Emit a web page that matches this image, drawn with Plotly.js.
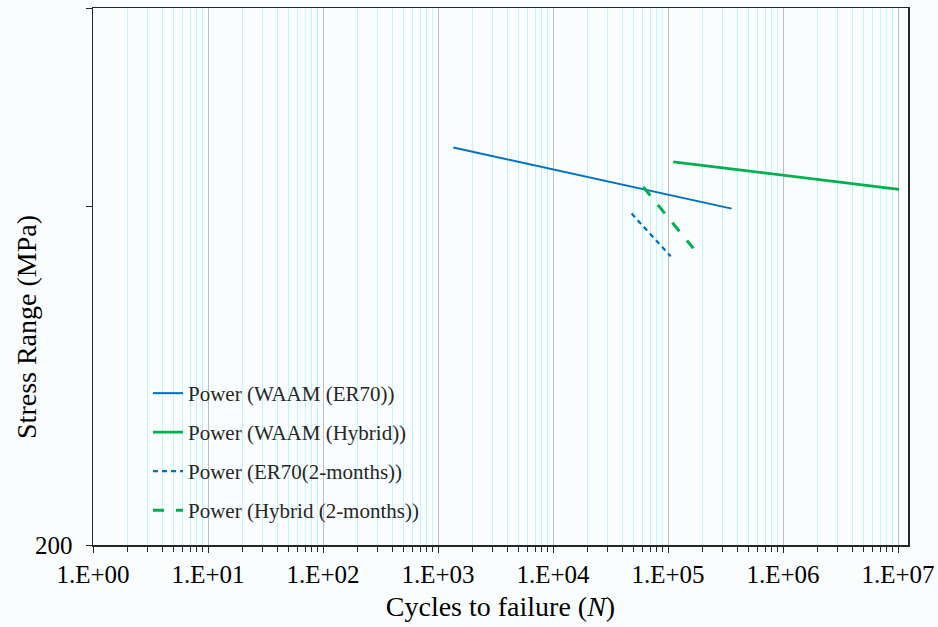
<!DOCTYPE html>
<html>
<head>
<meta charset="utf-8">
<script src="https://cdn.plot.ly/plotly-3.0.1.min.js"></script>
<style>html,body{margin:0;padding:0;background:#fafdfd;}#chart{width:938px;height:627px;}</style>
</head>
<body>
<div id="chart"></div>
<script>
// Trendline endpoints (cycles N, stress range MPa)
const er70N = [1360, 358000];
const er70S = [451, 398];
const hybridN = [111000, 10200000];
const hybridS = [438, 414];
const er70TwoMonthN = [48300, 105500];
const er70TwoMonthS = [394, 361];
const hybridTwoMonthN = [61000, 166000];
const hybridTwoMonthS = [416, 367];

const seriesNames = [
  'Power (WAAM (ER70))',
  'Power (WAAM (Hybrid))',
  'Power (ER70(2-months))',
  'Power (Hybrid (2-months))'
];

const xTickVals = [1, 10, 100, 1000, 10000, 100000, 1000000, 10000000];
const xTickText = ['1.E+00', '1.E+01', '1.E+02', '1.E+03', '1.E+04', '1.E+05', '1.E+06', '1.E+07'];
const yTickVals = [200, 400, 600];
const yTickText = ['200', '', ''];

const blue = '#0070C0';
const green = '#00B050';
const bg = '#fafdfd';
const serif = '"Liberation Serif", "Times New Roman", serif';

const traces = [
  {x: er70N, y: er70S, name: seriesNames[0], legendgroup: 'a', mode: 'lines',
   line: {color: blue, width: 2}},
  {x: hybridN, y: hybridS, name: seriesNames[1], legendgroup: 'b', mode: 'lines',
   line: {color: green, width: 2.75}},
  {x: er70TwoMonthN, y: er70TwoMonthS, name: seriesNames[2], legendgroup: 'c', mode: 'lines',
   line: {color: blue, width: 2.25, dash: '5px,4px'}},
  {x: hybridTwoMonthN, y: hybridTwoMonthS, name: seriesNames[3], legendgroup: 'd', mode: 'lines',
   line: {color: green, width: 3, dash: '11px,12px'}}
];

const layout = {
  width: 938, height: 627,
  paper_bgcolor: bg, plot_bgcolor: bg,
  margin: {l: 93, r: 30, t: 8, b: 82},
  font: {family: serif, color: '#000'},
  showlegend: true,
  legend: {
    x: 0.0368, y: 0.3203, xanchor: 'left', yanchor: 'top',
    bgcolor: 'rgba(0,0,0,0)', borderwidth: 0,
    font: {family: serif, size: 21, color: '#262626'},
    tracegroupgap: 8.7, indentation: 25
  },
  shapes: [{
    type: 'rect', xref: 'paper', yref: 'paper', layer: 'between',
    x0: 0.0368, x1: 0.4258, y0: 0.0279, y1: 0.3222,
    fillcolor: bg, line: {width: 0}
  }],
  xaxis: {
    type: 'log', range: [0, 7.087],
    tickvals: xTickVals, ticktext: xTickText,
    ticks: 'outside', ticklen: 6, tickcolor: '#262626', tickwidth: 1,
    showline: true, linecolor: '#262626', linewidth: 1.5, mirror: true,
    showgrid: true, gridcolor: '#bfbfbf', gridwidth: 1,
    tickfont: {family: serif, size: 25, color: '#000'},
    minor: {dtick: 'D1', showgrid: true, gridcolor: '#bdf7f7', gridwidth: 1,
            ticks: 'outside', ticklen: 5, tickcolor: '#262626'},
    zeroline: false,
    title: {text: 'Cycles to failure (<i>N</i>)', font: {family: serif, size: 28, color: '#000'}, standoff: 10}
  },
  yaxis: {
    type: 'log', range: [Math.log10(200), Math.log10(600)],
    tickvals: yTickVals, ticktext: yTickText,
    ticks: 'outside', ticklen: 6, tickcolor: '#262626',
    ticklabelstandoff: 8,
    showline: true, linecolor: '#262626', linewidth: 1.5, mirror: true,
    showgrid: false, zeroline: false,
    tickfont: {family: serif, size: 25, color: '#000'}
  },
  annotations: [{
    text: 'Stress Range (MPa)', textangle: -90,
    xref: 'paper', yref: 'paper', x: -0.081, y: 0.406,
    xanchor: 'center', yanchor: 'middle', showarrow: false,
    font: {family: serif, size: 28, color: '#000'}
  }]
};

Plotly.newPlot('chart', traces, layout, {displayModeBar: false, staticPlot: true});
</script>
</body>
</html>
